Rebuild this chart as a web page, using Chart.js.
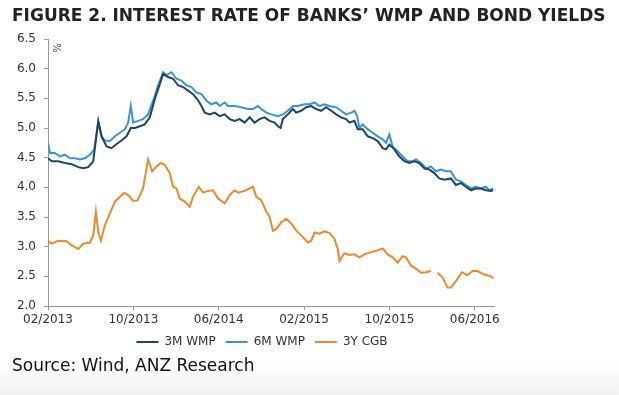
<!DOCTYPE html>
<html>
<head>
<meta charset="utf-8">
<script src="https://cdn.jsdelivr.net/npm/chart.js@4/dist/chart.umd.min.js"></script>
<style>
  body { margin: 0; background: #fff; }
  #wrap { position: relative; width: 619px; height: 395px; overflow: hidden; }
  #fade { position: absolute; left: 0; top: 362px; width: 619px; height: 33px;
          background: linear-gradient(#fff, #f1f1f1); }
  #chart { position: absolute; left: 0; top: 0; }
  #title { position: absolute; left: 12px; top: 5px; font: bold 17px "DejaVu Sans"; color: #222; white-space: nowrap; }
  #source { position: absolute; left: 12px; top: 355px; font: 17px "DejaVu Sans"; color: #111; white-space: nowrap; }
</style>
</head>
<body>
<div id="wrap">
  <div id="fade"></div>
  <canvas id="chart" width="619" height="395"></canvas>
  <div id="title">FIGURE 2. INTEREST RATE OF BANKS’ WMP AND BOND YIELDS</div>
  <div id="source">Source: Wind, ANZ Research</div>
</div>
<script>
// months counted from 02/2013
var tickLabels = ['02/2013', '10/2013', '06/2014', '02/2015', '10/2015', '06/2016'];

var wmp3Months = [0, 0.35, 0.96, 1.59, 2.22, 2.83, 3.30, 3.77, 4.24, 4.71, 5.02, 5.49, 5.96, 6.43, 6.89, 7.36, 7.76, 8.14, 8.61, 9.07,
    9.54, 10.01, 10.48, 10.79, 11.25, 11.72, 12.19, 12.66, 13.12, 13.59, 14.06, 14.38, 14.69, 15.15, 15.62, 16.09, 16.56, 17.03, 17.49, 17.96,
    18.43, 18.90, 19.36, 19.83, 20.30, 20.77, 21.24, 21.54, 21.80, 22.01, 22.48, 22.95, 23.26, 23.73, 24.20, 24.67, 25.13, 25.60, 26.07, 26.54,
    27.01, 27.47, 27.94, 28.25, 28.72, 29.03, 29.49, 29.96, 30.43, 30.90, 31.37, 31.68, 31.99, 32.46, 32.93, 33.40, 33.86, 34.33, 34.80, 35.27,
    35.73, 36.20, 36.67, 37.14, 37.76, 38.23, 38.70, 39.17, 39.64, 40.10, 40.57, 41.04, 41.50, 41.72];
var wmp3Rates = [4.49, 4.44, 4.44, 4.41, 4.39, 4.34, 4.32, 4.34, 4.44, 5.12, 4.86, 4.69, 4.66, 4.73, 4.79, 4.86, 5.00, 5.00, 5.03, 5.06,
    5.18, 5.49, 5.74, 5.91, 5.86, 5.83, 5.72, 5.69, 5.63, 5.57, 5.47, 5.37, 5.26, 5.23, 5.26, 5.20, 5.23, 5.15, 5.12, 5.15,
    5.09, 5.18, 5.09, 5.15, 5.18, 5.12, 5.09, 5.03, 5.00, 5.15, 5.23, 5.32, 5.26, 5.29, 5.35, 5.37, 5.32, 5.29, 5.35, 5.29,
    5.23, 5.18, 5.15, 5.09, 5.12, 4.98, 4.98, 4.86, 4.83, 4.78, 4.66, 4.64, 4.72, 4.64, 4.52, 4.44, 4.41, 4.44, 4.41, 4.32,
    4.30, 4.24, 4.15, 4.13, 4.15, 4.04, 4.07, 4.01, 3.95, 3.98, 3.98, 3.95, 3.94, 3.95];

var wmp6Months = [0, 0.19, 0.65, 1.12, 1.59, 2.06, 2.53, 2.99, 3.46, 3.93, 4.33, 4.71, 5.02, 5.33, 5.80, 6.27, 6.74, 7.20, 7.51, 7.76,
    7.98, 8.45, 8.91, 9.38, 9.85, 10.32, 10.79, 11.10, 11.57, 12.04, 12.51, 12.97, 13.44, 13.91, 14.38, 14.85, 15.31, 15.78, 16.09, 16.56,
    16.87, 17.49, 18.12, 18.74, 19.20, 19.67, 19.99, 20.46, 20.93, 21.54, 22.01, 22.48, 22.95, 23.41, 24.04, 24.51, 24.98, 25.44, 25.91, 26.38,
    27.01, 27.47, 27.94, 28.41, 28.72, 28.97, 29.19, 29.49, 29.96, 30.43, 30.90, 31.37, 31.68, 31.99, 32.30, 32.77, 33.24, 33.70, 34.17, 34.49,
    34.96, 35.43, 35.89, 36.36, 36.83, 37.30, 37.76, 38.23, 38.70, 39.17, 39.64, 40.10, 40.57, 41.04, 41.35, 41.72];
var wmp6Rates = [4.75, 4.58, 4.58, 4.52, 4.55, 4.49, 4.49, 4.47, 4.49, 4.55, 4.64, 5.09, 4.86, 4.79, 4.78, 4.86, 4.92, 4.98, 5.09, 5.37,
    5.09, 5.12, 5.15, 5.23, 5.46, 5.72, 5.94, 5.89, 5.94, 5.83, 5.80, 5.72, 5.69, 5.60, 5.57, 5.46, 5.40, 5.43, 5.37, 5.43,
    5.37, 5.37, 5.35, 5.32, 5.32, 5.37, 5.32, 5.26, 5.23, 5.20, 5.23, 5.29, 5.37, 5.37, 5.40, 5.40, 5.43, 5.37, 5.40, 5.37,
    5.35, 5.29, 5.23, 5.26, 5.29, 5.20, 5.00, 5.06, 4.98, 4.92, 4.86, 4.81, 4.75, 4.89, 4.69, 4.61, 4.52, 4.44, 4.44, 4.47,
    4.41, 4.32, 4.35, 4.27, 4.30, 4.27, 4.27, 4.13, 4.10, 4.04, 3.98, 4.01, 3.98, 4.01, 3.95, 3.98];

var cgbMonths = [0, 0.35, 0.96, 1.75, 2.22, 2.83, 3.30, 3.93, 4.24, 4.49, 4.71, 4.96, 5.33, 5.80, 6.27, 6.74, 7.14, 7.51, 7.98, 8.39,
    8.91, 9.38, 9.76, 10.17, 10.57, 10.94, 11.41, 11.72, 12.04, 12.35, 12.82, 13.28, 13.59, 14.13, 14.53, 15.00, 15.46, 15.93, 16.56, 17.03,
    17.49, 17.80, 18.43, 19.20, 19.52, 19.99, 20.46, 20.77, 21.08, 21.39, 21.86, 22.33, 22.80, 23.26, 23.73, 24.35, 24.67, 24.98, 25.44, 25.91,
    26.38, 26.85, 27.16, 27.32, 27.78, 28.25, 28.72, 29.19, 29.65, 30.12, 30.75, 31.37, 31.83, 32.30, 32.77, 33.24, 33.55, 34.02, 34.49, 34.96,
    35.43, 35.89, 36.2, 36.51, 36.98, 37.45, 37.76, 38.23, 38.79, 39.32, 39.78, 40.25, 40.88, 41.35, 41.75];
var cgbYields = [3.10, 3.05, 3.10, 3.09, 3.02, 2.96, 3.05, 3.07, 3.19, 3.59, 3.24, 3.10, 3.36, 3.56, 3.76, 3.84, 3.91, 3.87, 3.77, 3.78,
    3.98, 4.47, 4.27, 4.35, 4.41, 4.38, 4.24, 4.01, 3.98, 3.81, 3.76, 3.67, 3.84, 4.01, 3.91, 3.94, 3.95, 3.81, 3.73, 3.87,
    3.95, 3.91, 3.94, 4.01, 3.84, 3.78, 3.59, 3.50, 3.27, 3.30, 3.41, 3.47, 3.39, 3.27, 3.19, 3.07, 3.10, 3.24, 3.22, 3.26,
    3.23, 3.13, 2.96, 2.76, 2.89, 2.86, 2.87, 2.82, 2.87, 2.90, 2.93, 2.97, 2.87, 2.82, 2.73, 2.84, 2.82, 2.68, 2.63, 2.56,
    2.57, 2.59, null, 2.56, 2.48, 2.31, 2.31, 2.42, 2.57, 2.52, 2.59, 2.59, 2.53, 2.51, 2.47];

function toPoints(xs, ys) {
    return xs.map(function (m, i) { return { x: m, y: ys[i] }; });
}

var percentLabel = {
    id: 'percentLabel',
    afterDraw: function (chart) {
        var ctx = chart.ctx, area = chart.chartArea;
        ctx.save();
        ctx.translate(area.left + 10, area.top + 9);
        ctx.rotate(-Math.PI / 2);
        ctx.font = '10px "DejaVu Sans"';
        ctx.fillStyle = '#444';
        ctx.textAlign = 'center';
        ctx.textBaseline = 'middle';
        ctx.fillText('%', 0, 0);
        ctx.restore();
    }
};

// nudge the legend a little to the right, where the original sits
var legendShift = {
    id: 'legendShift',
    afterLayout: function (chart) {
        chart.legend.left += 11;
        chart.legend.right += 11;
    }
};

var ctx = document.getElementById('chart').getContext('2d');
var chart = new Chart(ctx, {
    type: 'line',
    data: {
        datasets: [
            { label: '3M WMP', data: toPoints(wmp3Months, wmp3Rates), borderColor: '#1e4466', backgroundColor: '#1e4466', pointBorderWidth: 2 },
            { label: '6M WMP', data: toPoints(wmp6Months, wmp6Rates), borderColor: '#3b94d0', backgroundColor: '#3b94d0', pointBorderWidth: 2 },
            { label: '3Y CGB', data: toPoints(cgbMonths, cgbYields), borderColor: '#e88a2e', backgroundColor: '#e88a2e', pointBorderWidth: 2 }
        ]
    },
    options: {
        responsive: false,
        devicePixelRatio: 1,
        animation: false,
        spanGaps: false,
        elements: {
            line: { borderWidth: 2, tension: 0 },
            point: { radius: 0 }
        },
        layout: { padding: { left: 8, right: 125, top: 39, bottom: 37 } },
        scales: {
            x: {
                type: 'linear',
                min: 0,
                max: 41.8,
                afterFit: function (s) { s.height = 20; },
                grid: { drawOnChartArea: false, tickLength: 4, color: '#999' },
                border: { color: '#999' },
                ticks: {
                    stepSize: 8,
                    includeBounds: false,
                    maxRotation: 0,
                    padding: 3,
                    color: '#333',
                    font: { family: 'DejaVu Sans', size: 12 },
                    callback: function (v) { return tickLabels[v / 8]; }
                }
            },
            y: {
                min: 2,
                max: 6.5,
                afterFit: function (s) { s.width = 40; },
                grid: { drawOnChartArea: false, tickLength: 4, color: '#999' },
                border: { color: '#999' },
                ticks: {
                    stepSize: 0.5,
                    padding: 8,
                    color: '#333',
                    font: { family: 'DejaVu Sans', size: 12 },
                    callback: function (v) { return v.toFixed(1); }
                }
            }
        },
        plugins: {
            legend: {
                position: 'bottom',
                labels: {
                    usePointStyle: true,
                    pointStyle: 'line',
                    pointStyleWidth: 22,
                    padding: 10,
                    color: '#333',
                    font: { family: 'DejaVu Sans', size: 12 }
                }
            },
            tooltip: { enabled: false }
        }
    },
    plugins: [percentLabel, legendShift]
});
</script>
</body>
</html>
